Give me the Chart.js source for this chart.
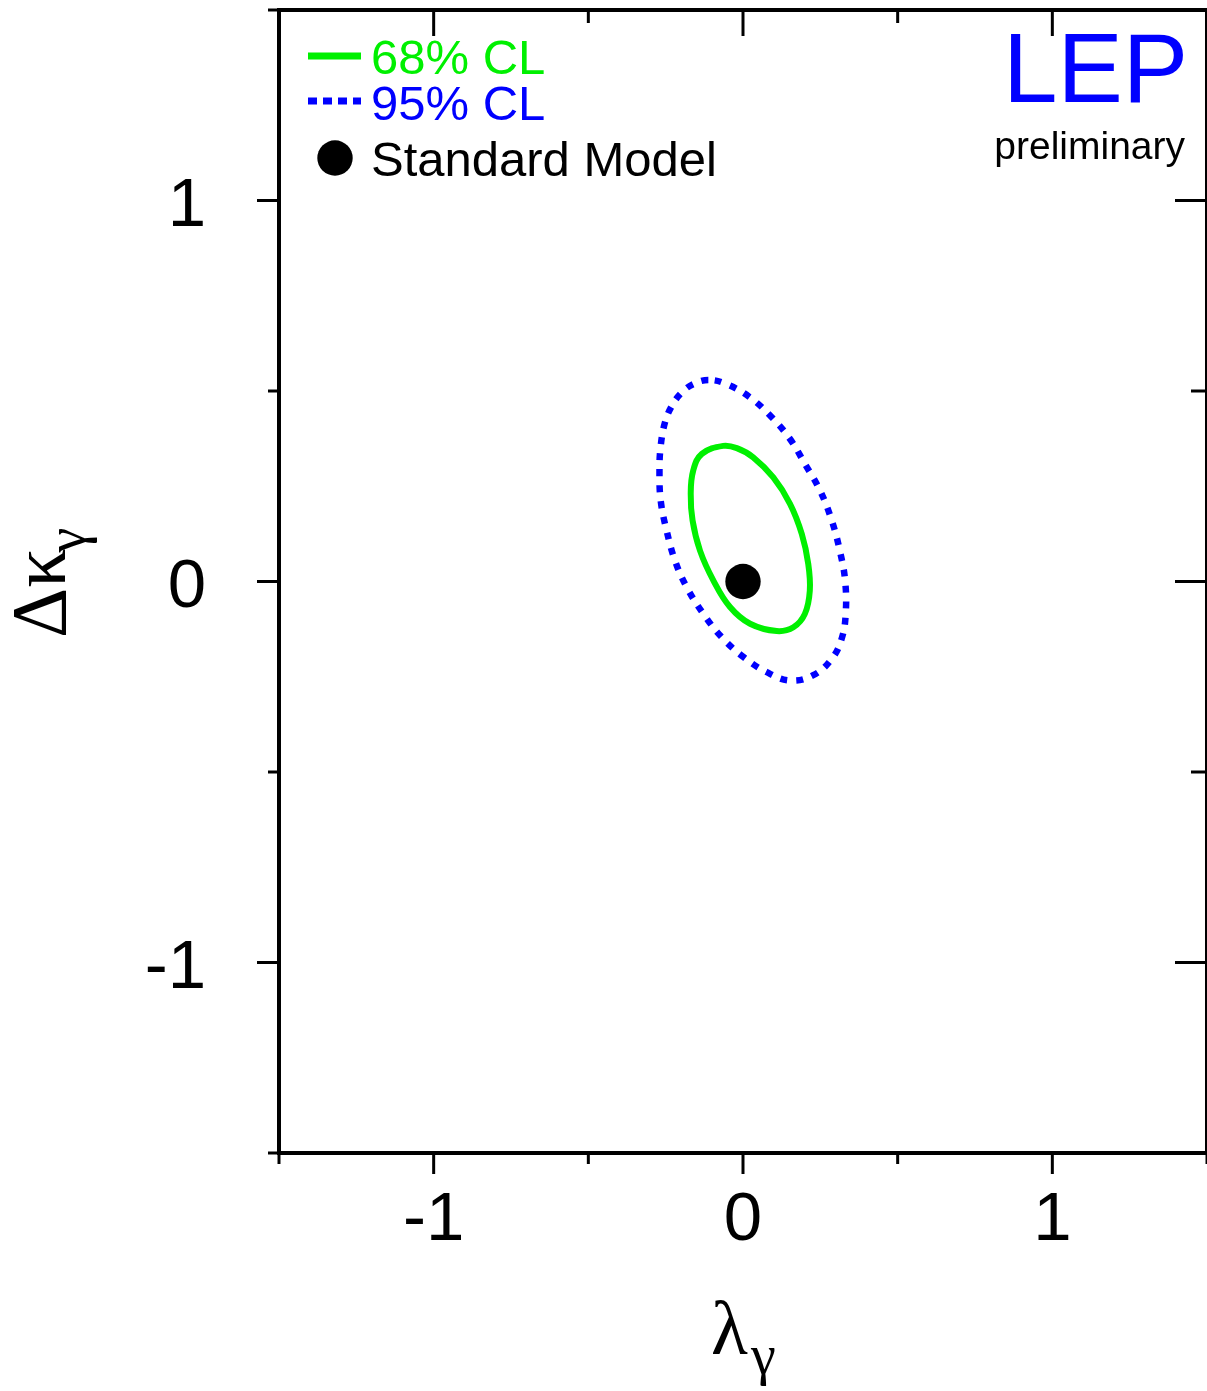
<!DOCTYPE html>
<html>
<head>
<meta charset="utf-8">
<script src="https://cdn.jsdelivr.net/npm/chart.js@4.4.0/dist/chart.umd.min.js"></script>
<style>
  html, body { margin: 0; padding: 0; background: #fff; }
  canvas { display: block; }
</style>
</head>
<body>
<canvas id="chart" width="1207" height="1391"></canvas>
<script>
// axis ticks
const majorTicks = [-1, 0, 1];
const tickLabels = ['-1', '0', '1'];
const minorTicks = [-1.5, -0.5, 0.5, 1.5];

// 68% CL contour (lambda_gamma, delta kappa_gamma)
const lambda68 = [-0.064, -0.133, -0.161, -0.169, -0.163, -0.139, -0.096, -0.042, 0.023, 0.109,
  0.163, 0.200, 0.216, 0.211, 0.190, 0.152, 0.098, 0.033, -0.020];
const kappa68 = [0.356, 0.335, 0.291, 0.230, 0.160, 0.081, 0.003, -0.067, -0.111, -0.130,
  -0.120, -0.085, -0.024, 0.046, 0.125, 0.204, 0.273, 0.326, 0.350];

// 95% CL contour
const lambda95 = [-0.112, -0.161, -0.198, -0.230, -0.252, -0.266, -0.270, -0.266, -0.247, -0.220,
  -0.182, -0.128, -0.069, 0.001, 0.077, 0.152, 0.227, 0.287, 0.319, 0.332,
  0.330, 0.313, 0.287, 0.249, 0.200, 0.152, 0.093, 0.023, -0.053];
const kappa95 = [0.529, 0.518, 0.496, 0.461, 0.418, 0.356, 0.291, 0.212, 0.134, 0.055,
  -0.015, -0.085, -0.146, -0.198, -0.238, -0.260, -0.246, -0.203, -0.150, -0.085,
  0.003, 0.081, 0.160, 0.239, 0.309, 0.374, 0.431, 0.483, 0.518];

// Standard Model point
const smLambda = [0];
const smKappa = [0];

const GREEN = '#00f000';
const BLUE = '#0000ff';

// closed loop: wrap one point on each side so the smoothing has no seam,
// the two wrap segments are hidden via segment styling
function loop(xs, ys) {
  const n = xs.length;
  const pts = [{ x: xs[n - 1], y: ys[n - 1] }];
  xs.forEach((x, i) => pts.push({ x: x, y: ys[i] }));
  pts.push({ x: xs[0], y: ys[0] });
  pts.push({ x: xs[1], y: ys[1] });
  return pts;
}
function hideEnds(n) {
  return ctx => (ctx.p0DataIndex === 0 || ctx.p0DataIndex === n + 1) ? 'rgba(0,0,0,0)' : undefined;
}

const decorations = {
  id: 'decorations',
  afterDraw(chart) {
    const { ctx, chartArea: a, scales: { x, y } } = chart;
    ctx.save();

    // frame
    ctx.strokeStyle = '#000';
    ctx.lineWidth = 4;
    ctx.strokeRect(a.left, a.top, a.right - a.left, a.bottom - a.top);

    // ticks
    ctx.lineWidth = 3;
    const tick = (x1, y1, x2, y2) => {
      ctx.beginPath(); ctx.moveTo(x1, y1); ctx.lineTo(x2, y2); ctx.stroke();
    };
    majorTicks.forEach(v => {
      const px = x.getPixelForValue(v);
      const py = y.getPixelForValue(v);
      tick(px, a.bottom, px, a.bottom + 21);   // bottom, outside
      tick(px, a.top, px, a.top + 26);         // top, inside
      tick(a.left - 22, py, a.left, py);       // left, outside
      tick(a.right - 32, py, a.right, py);     // right, inside
    });
    minorTicks.forEach(v => {
      const px = x.getPixelForValue(v);
      const py = y.getPixelForValue(v);
      tick(px, a.bottom, px, a.bottom + 11);
      tick(px, a.top, px, a.top + 13);
      tick(a.left - 11, py, a.left, py);
      tick(a.right - 16, py, a.right, py);
    });

    // tick labels
    ctx.fillStyle = '#000';
    ctx.font = '69px "Liberation Sans", Arial, sans-serif';
    ctx.textBaseline = 'alphabetic';
    majorTicks.forEach((v, i) => {
      ctx.textAlign = 'center';
      ctx.fillText(tickLabels[i], x.getPixelForValue(v), 1240);
      ctx.textAlign = 'right';
      ctx.fillText(tickLabels[i], 206, y.getPixelForValue(v) + 25);
    });

    // x axis title
    ctx.textAlign = 'left';
    ctx.font = '76px "Liberation Serif", "DejaVu Serif", serif';
    ctx.fillText('λ', 711, 1354);
    ctx.font = '56px "Liberation Serif", "DejaVu Serif", serif';
    ctx.fillText('γ', 751, 1374);

    // y axis title (rotated)
    ctx.save();
    ctx.translate(65, 638);
    ctx.rotate(-Math.PI / 2);
    ctx.font = '78px "Liberation Serif", "DejaVu Serif", serif';
    ctx.fillText('Δκ', 0, 0);
    const w = ctx.measureText('Δκ').width;
    ctx.font = '56px "Liberation Serif", "DejaVu Serif", serif';
    ctx.fillText('γ', w - 4, 20);
    ctx.restore();

    // legend
    ctx.lineWidth = 7;
    ctx.strokeStyle = GREEN;
    ctx.beginPath(); ctx.moveTo(308, 56); ctx.lineTo(361, 56); ctx.stroke();
    ctx.strokeStyle = BLUE;
    ctx.setLineDash([9, 6]);
    ctx.beginPath(); ctx.moveTo(308, 101); ctx.lineTo(361, 101); ctx.stroke();
    ctx.setLineDash([]);
    ctx.fillStyle = '#000';
    ctx.beginPath(); ctx.arc(335, 158, 17.7, 0, Math.PI * 2); ctx.fill();

    ctx.font = '49px "Liberation Sans", Arial, sans-serif';
    ctx.textAlign = 'left';
    ctx.fillStyle = GREEN;
    ctx.fillText('68% CL', 371, 74);
    ctx.fillStyle = BLUE;
    ctx.fillText('95% CL', 371, 120);
    ctx.fillStyle = '#000';
    ctx.fillText('Standard Model', 371, 176);

    // LEP label
    ctx.fillStyle = BLUE;
    ctx.font = '98px "Liberation Sans", Arial, sans-serif';
    ctx.fillText('LEP', 1003, 102);
    ctx.fillStyle = '#000';
    ctx.font = '39px "Liberation Sans", Arial, sans-serif';
    ctx.textAlign = 'right';
    ctx.fillText('preliminary', 1185, 159);

    ctx.restore();
  }
};

new Chart(document.getElementById('chart'), {
  type: 'scatter',
  data: {
    datasets: [
      {
        label: '95% CL',
        data: loop(lambda95, kappa95),
        showLine: true,
        tension: 0.4,
        borderColor: BLUE,
        borderWidth: 6.5,
        borderDash: [7, 9],
        borderCapStyle: 'butt',
        pointRadius: 0,
        segment: { borderColor: hideEnds(lambda95.length) }
      },
      {
        label: '68% CL',
        data: loop(lambda68, kappa68),
        showLine: true,
        tension: 0.4,
        borderColor: GREEN,
        borderWidth: 6,
        pointRadius: 0,
        segment: { borderColor: hideEnds(lambda68.length) }
      },
      {
        label: 'Standard Model',
        data: smLambda.map((v, i) => ({ x: v, y: smKappa[i] })),
        pointRadius: 17.7,
        pointBackgroundColor: '#000',
        pointBorderWidth: 0
      }
    ]
  },
  options: {
    responsive: false,
    animation: false,
    layout: { autoPadding: false, padding: { left: 279, right: 0, top: 10, bottom: 238 } },
    plugins: { legend: { display: false }, tooltip: { enabled: false } },
    scales: {
      x: { type: 'linear', min: -1.5, max: 1.5, display: false },
      y: { type: 'linear', min: -1.5, max: 1.5, display: false }
    }
  },
  plugins: [decorations]
});
</script>
</body>
</html>
